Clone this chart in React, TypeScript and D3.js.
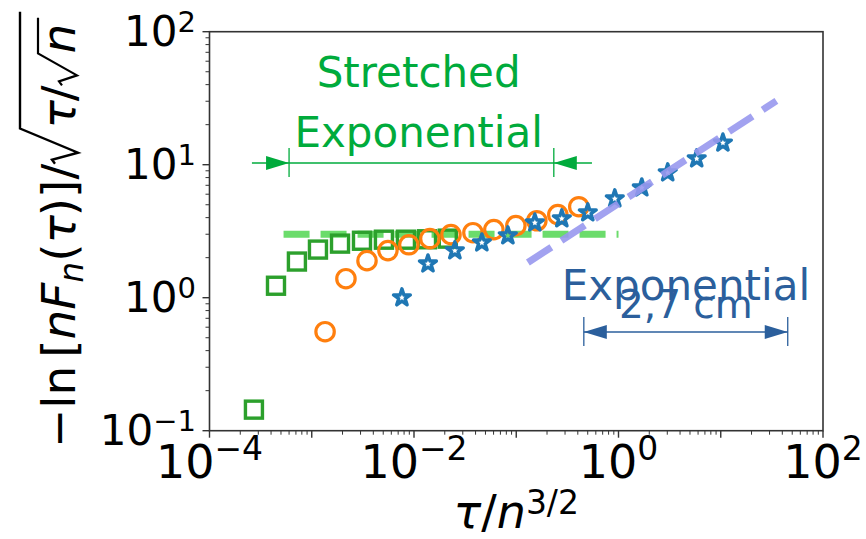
import React, { useEffect, useRef } from 'react';
import * as d3 from 'd3';

// green squares
const squareX = [2.72e-4, 4.47e-4, 7.16e-4, 1.15e-3, 1.89e-3, 3.10e-3, 5.08e-3, 8.34e-3, 1.34e-2, 2.14e-2];
const squareY = [0.144, 1.23, 1.87, 2.30, 2.55, 2.68, 2.73, 2.73, 2.75, 2.78];

// orange circles
const circleX = [1.35e-3, 2.16e-3, 3.47e-3, 5.56e-3, 8.91e-3, 1.43e-2, 2.30e-2, 3.77e-2, 6.04e-2, 9.91e-2, 0.159, 0.255, 0.409];
const circleY = [0.555, 1.39, 1.90, 2.26, 2.50, 2.78, 2.98, 3.08, 3.25, 3.48, 3.79, 4.21, 4.83];

// blue stars
const starX = [7.62e-3, 1.37e-2, 2.51e-2, 4.61e-2, 8.28e-2, 0.152, 0.279, 0.501, 0.920, 1.69, 3.03, 5.82, 10.5];
const starY = [1.00, 1.80, 2.26, 2.59, 2.93, 3.66, 3.93, 4.36, 5.55, 6.71, 8.71, 11.1, 14.6];

// guide lines
const plateauX = [5.3e-4, 1.0];
const plateauY = [3.0, 3.0];
const slopeX = [0.13, 35];
const slopeY = [1.84, 30.2];

const xTicks = [1e-4, 1e-2, 1e0, 1e2];
const xTickExp = ['−4', '−2', '0', '2'];
const yTicks = [1e-1, 1e0, 1e1, 1e2];
const yTickExp = ['−1', '0', '1', '2'];

// annotations, in data units
const stretchedTicks = [6.0e-4, 0.233];
const stretchedLine = [2.6e-4, 0.55];
const stretchedAt = 10.3;
const stretchedMid = 0.0111;
const expTicks = [0.458, 45.2];
const expAt = 0.552;
const expMid = 4.56;

const GREEN = '#00ab3c';
const BLUE = '#2b5f9c';
const FONT = 'DejaVu Sans';

export default function App() {
  const ref = useRef<SVGSVGElement>(null);

  useEffect(() => {
    const svg = d3.select(ref.current);
    svg.selectAll('*').remove();

    const left = 209.5, right = 823, top = 31.7, bottom = 430.7;
    const x = d3.scaleLog().domain([1e-4, 1e2]).range([left, right]);
    const y = d3.scaleLog().domain([1e-1, 1e2]).range([bottom, top]);

    const isDecade = (v: number) => Math.abs(Math.log10(v) - Math.round(Math.log10(v))) < 1e-6;

    // ticks
    const axes = svg.append('g').attr('stroke', '#333');
    x.ticks().forEach((v) => {
      const major = isDecade(v);
      axes.append('line')
        .attr('x1', x(v)).attr('x2', x(v))
        .attr('y1', bottom).attr('y2', bottom + (major ? 7 : 4))
        .attr('stroke-width', major ? 1.4 : 1);
    });
    y.ticks().forEach((v) => {
      const major = isDecade(v);
      axes.append('line')
        .attr('y1', y(v)).attr('y2', y(v))
        .attr('x1', left).attr('x2', left - (major ? 7 : 4))
        .attr('stroke-width', major ? 1.4 : 1);
    });

    xTicks.forEach((v, i) => {
      const t = svg.append('text')
        .attr('x', x(v)).attr('y', bottom + 47)
        .attr('text-anchor', 'middle')
        .attr('font-family', FONT).attr('font-size', 46);
      t.append('tspan').text('10');
      t.append('tspan').attr('font-size', 33).attr('dy', -18).text(xTickExp[i]);
    });
    yTicks.forEach((v, i) => {
      const t = svg.append('text')
        .attr('x', 196).attr('y', y(v) + 14.5)
        .attr('text-anchor', 'end')
        .attr('font-family', FONT).attr('font-size', 42);
      t.append('tspan').text('10');
      t.append('tspan').attr('font-size', 29).attr('dy', -14).text(yTickExp[i]);
    });

    // data
    const line = d3.line<number>().x((d) => d[0]).y((d) => d[1]);
    svg.append('path')
      .attr('d', line(plateauX.map((v, i) => [x(v), y(plateauY[i])] as any)))
      .attr('fill', 'none').attr('stroke', '#6bdc6b')
      .attr('stroke-width', 7).attr('stroke-dasharray', '26 11');

    svg.append('g').selectAll('rect').data(squareX).enter().append('rect')
      .attr('x', (d) => x(d) - 8.5).attr('y', (d, i) => y(squareY[i]) - 8.5)
      .attr('width', 17).attr('height', 17)
      .attr('fill', 'none').attr('stroke', '#2ca02c').attr('stroke-width', 3.4);

    svg.append('g').selectAll('circle').data(circleX).enter().append('circle')
      .attr('cx', (d) => x(d)).attr('cy', (d, i) => y(circleY[i]))
      .attr('r', 9.2)
      .attr('fill', 'none').attr('stroke', '#ff7f0e').attr('stroke-width', 3.2);

    const star = d3.symbol().type(d3.symbolStar).size(88);
    svg.append('g').selectAll('path').data(starX).enter().append('path')
      .attr('transform', (d, i) => `translate(${x(d)},${y(starY[i])})`)
      .attr('d', star() as string)
      .attr('fill', 'none').attr('stroke', '#1f77b4').attr('stroke-width', 3.4)
      .attr('stroke-linejoin', 'round');

    svg.append('path')
      .attr('d', line(slopeX.map((v, i) => [x(v), y(slopeY[i])] as any)))
      .attr('fill', 'none').attr('stroke', '#9898ee').attr('opacity', 0.9)
      .attr('stroke-width', 7).attr('stroke-dasharray', '28 12');

    // frame
    svg.append('rect')
      .attr('x', left).attr('y', top)
      .attr('width', right - left).attr('height', bottom - top)
      .attr('fill', 'none').attr('stroke', '#333').attr('stroke-width', 1.6);

    // arrowhead helper: tip at (tx, ty), dir +1 points right, -1 points left
    const head = (g: any, tx: number, ty: number, dir: number, color: string) => {
      const b = tx - dir * 23;
      g.append('path')
        .attr('d', `M${tx},${ty}L${b},${ty - 7}L${b},${ty + 7}Z`)
        .attr('fill', color);
    };

    // stretched exponential annotation
    const ga = svg.append('g');
    const sy = y(stretchedAt);
    ga.append('line')
      .attr('x1', x(stretchedLine[0])).attr('x2', x(stretchedLine[1]))
      .attr('y1', sy).attr('y2', sy)
      .attr('stroke', GREEN).attr('stroke-width', 1.5);
    stretchedTicks.forEach((v) => {
      ga.append('line').attr('x1', x(v)).attr('x2', x(v))
        .attr('y1', sy - 15).attr('y2', sy + 14)
        .attr('stroke', GREEN).attr('stroke-width', 1.3);
    });
    head(ga, x(stretchedTicks[0]), sy, 1, GREEN);
    head(ga, x(stretchedTicks[1]), sy, -1, GREEN);
    ['Stretched', 'Exponential'].forEach((s, i) => {
      ga.append('text')
        .attr('x', x(stretchedMid)).attr('y', sy - 76 + i * 60)
        .attr('text-anchor', 'middle')
        .attr('font-family', FONT).attr('font-size', 42)
        .attr('fill', GREEN).text(s);
    });

    // exponential annotation
    const gb = svg.append('g');
    const ey = y(expAt);
    gb.append('line')
      .attr('x1', x(expTicks[0])).attr('x2', x(expTicks[1]))
      .attr('y1', ey).attr('y2', ey)
      .attr('stroke', BLUE).attr('stroke-width', 1.5);
    expTicks.forEach((v) => {
      gb.append('line').attr('x1', x(v)).attr('x2', x(v))
        .attr('y1', ey - 15).attr('y2', ey + 14)
        .attr('stroke', BLUE).attr('stroke-width', 1.3);
    });
    head(gb, x(expTicks[0]), ey, -1, BLUE);
    head(gb, x(expTicks[1]), ey, 1, BLUE);
    gb.append('text')
      .attr('x', x(expMid)).attr('y', ey - 32)
      .attr('text-anchor', 'middle')
      .attr('font-family', FONT).attr('font-size', 42)
      .attr('fill', BLUE).text('Exponential');
    gb.append('text')
      .attr('x', x(expMid)).attr('y', ey - 14)
      .attr('text-anchor', 'middle')
      .attr('font-family', FONT).attr('font-size', 39)
      .attr('fill', BLUE).text('2,7 cm');

    // x label
    const xl = svg.append('text')
      .attr('x', (left + right) / 2).attr('y', 528)
      .attr('text-anchor', 'middle')
      .attr('font-family', FONT).attr('font-size', 46);
    xl.append('tspan').attr('font-style', 'italic').text('τ');
    xl.append('tspan').text('/');
    xl.append('tspan').attr('font-style', 'italic').text('n');
    xl.append('tspan').attr('font-size', 33).attr('dy', -14).text('3/2');

    // y label: -ln[nF_n(tau)]/sqrt(tau/sqrt(n))
    const s = 47;
    const yl = svg.append('g')
      .attr('transform', 'translate(75,448) rotate(-90)')
      .attr('font-family', FONT).attr('font-size', s);
    const pieces = [
      { t: '−', w: 0.838 },
      { t: 'ln', w: 1.08 },
      { t: '[', w: 0.39 },
      { t: 'n', w: 0.634, it: true },
      { t: 'F', w: 0.575, it: true },
      { t: 'n', w: 0.634, it: true, sub: true },
      { t: '(', w: 0.39 },
      { t: 'τ', w: 0.58, it: true },
      { t: ')', w: 0.39 },
      { t: ']', w: 0.39 },
      { t: '/', w: 0.337 },
      { t: '', w: 0.75, rad: 'outer' },
      { t: 'τ', w: 0.58, it: true },
      { t: '/', w: 0.337 },
      { t: '', w: 0.68, rad: 'inner' },
      { t: 'n', w: 0.634, it: true },
    ];
    let cx = 0;
    const rads: { [k: string]: number } = {};
    pieces.forEach((p: any) => {
      if (p.rad) {
        rads[p.rad] = cx;
        cx += p.w * s;
        return;
      }
      const fs = p.sub ? s * 0.7 : s;
      yl.append('text')
        .attr('x', cx).attr('y', p.sub ? 8 : 0)
        .attr('font-size', fs)
        .attr('font-style', p.it ? 'italic' : 'normal')
        .text(p.t);
      cx += p.w * fs;
    });
    const wOut = 0.75 * s, wIn = 0.68 * s;
    const o = rads.outer, n = rads.inner;
    yl.append('path')
      .attr('d', `M${o},-20L${o + 4},-23L${o + 11},3L${o + wOut},-55H${cx + 12}`)
      .attr('fill', 'none').attr('stroke', '#000').attr('stroke-width', 2.4);
    yl.append('path')
      .attr('d', `M${n},-13L${n + 4},-16L${n + 10},2L${n + wIn},-37H${cx + 6}`)
      .attr('fill', 'none').attr('stroke', '#000').attr('stroke-width', 2.2);
  }, []);

  return (
    <svg ref={ref} width={866} height={539}
      style={{ position: 'absolute', left: 0, top: 0, background: '#fff' }} />
  );
}
